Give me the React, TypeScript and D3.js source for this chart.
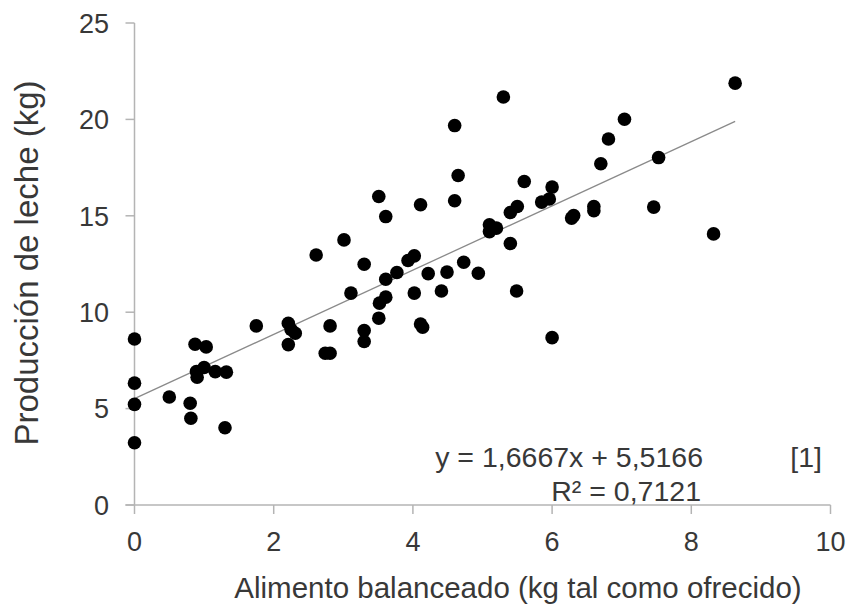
import React from "react";
import * as d3 from "d3";

const xValues = [0, 0, 0, 0, 0.5, 0.8, 0.81, 0.87, 1.03, 0.89, 0.9, 1.0, 1.16, 1.32, 1.3, 1.75, 2.21, 2.25, 2.31, 2.21, 2.81, 2.74, 2.81, 2.61, 3.01, 3.3, 3.11, 3.3, 3.3, 3.51, 3.52, 3.61, 3.61, 3.77, 3.93, 4.02, 4.02, 4.11, 4.14, 4.22, 4.41, 4.49, 4.73, 4.94, 5.4, 5.49, 6.0, 4.6, 4.65, 4.6, 3.51, 3.61, 4.11, 5.3, 8.63, 7.04, 6.81, 6.7, 7.53, 5.6, 6.0, 5.96, 5.85, 5.5, 5.4, 5.1, 5.2, 5.1, 6.28, 6.31, 6.6, 6.6, 7.46, 8.32];
const yValues = [8.61, 6.32, 5.22, 3.23, 5.6, 5.28, 4.5, 8.34, 8.2, 6.92, 6.63, 7.13, 6.92, 6.89, 4.01, 9.29, 9.43, 9.1, 8.91, 8.32, 9.29, 7.87, 7.87, 12.97, 13.75, 12.49, 10.99, 9.05, 8.48, 9.69, 10.47, 10.78, 11.71, 12.06, 12.68, 12.92, 10.99, 9.39, 9.22, 12.0, 11.1, 12.08, 12.59, 12.02, 13.56, 11.1, 8.68, 19.68, 17.09, 15.78, 16.0, 14.96, 15.57, 21.16, 21.88, 20.01, 18.98, 17.7, 18.02, 16.78, 16.49, 15.87, 15.71, 15.48, 15.17, 14.53, 14.36, 14.18, 14.88, 15.01, 15.48, 15.26, 15.45, 14.06];
const xTicks = [0, 2, 4, 6, 8, 10];
const yTicks = [0, 5, 10, 15, 20, 25];
const slope = 1.6667;
const intercept = 5.5166;
const trendXRange = [0, 8.63];
const xTitle = "Alimento balanceado (kg tal como ofrecido)";
const yTitle = "Producción de leche (kg)";
const eqText = "y = 1,6667x + 5,5166";
const r2Text = "R² = 0,7121";
const tagText = "[1]";

export default function App() {
  const W = 846, H = 604;
  const x = d3.scaleLinear().domain([0, 10]).range([134.5, 830.5]);
  const y = d3.scaleLinear().domain([0, 25]).range([505, 23]);
  const axisColor = "#b4b4b4";
  const textColor = "#383838";
  const font = "'Liberation Sans', Arial, sans-serif";
  const line = d3.line<number>().x((d) => x(d)).y((d) => y(slope * d + intercept));
  return (
    <svg width={W} height={H} style={{ position: "absolute", left: 0, top: 0, background: "#fff" }} fontFamily={font}>
      <rect width={W} height={H} fill="#fff" />
      {/* axes */}
      <line x1={x(0)} x2={x(0)} y1={y(25)} y2={y(0)} stroke={axisColor} strokeWidth={1.5} />
      <line x1={x(0) - 9} x2={x(10)} y1={y(0)} y2={y(0)} stroke={axisColor} strokeWidth={1.5} />
      {yTicks.map((t) => (
        <g key={"y" + t}>
          <line x1={x(0) - 9} x2={x(0)} y1={y(t)} y2={y(t)} stroke={axisColor} strokeWidth={1.5} />
          <text x={109} y={y(t)} dy="0.36em" textAnchor="end" fontSize={27} fill={textColor}>{t}</text>
        </g>
      ))}
      {xTicks.map((t) => (
        <g key={"x" + t}>
          <line x1={x(t)} x2={x(t)} y1={y(0)} y2={y(0) + 9} stroke={axisColor} strokeWidth={1.5} />
          <text x={x(t)} y={551} textAnchor="middle" fontSize={27} fill={textColor}>{t}</text>
        </g>
      ))}
      {/* trend line */}
      <path d={line(trendXRange) || ""} fill="none" stroke="#8a8a8a" strokeWidth={1.3} />
      {/* points */}
      {xValues.map((xv, i) => (
        <circle key={i} cx={x(xv)} cy={y(yValues[i])} r={6.8} fill="#000" />
      ))}
      {/* equation */}
      <text x={703} y={467} textAnchor="end" fontSize={28.5} fill={textColor}>{eqText}</text>
      <text x={701} y={501} textAnchor="end" fontSize={28.5} fill={textColor}>{r2Text}</text>
      <text x={822} y={467} textAnchor="end" fontSize={28.5} fill={textColor}>{tagText}</text>
      {/* titles */}
      <text x={518} y={598} textAnchor="middle" fontSize={29.5} fill={textColor}>{xTitle}</text>
      <text transform={`translate(38,263) rotate(-90)`} textAnchor="middle" fontSize={33} fill={textColor}>{yTitle}</text>
    </svg>
  );
}
